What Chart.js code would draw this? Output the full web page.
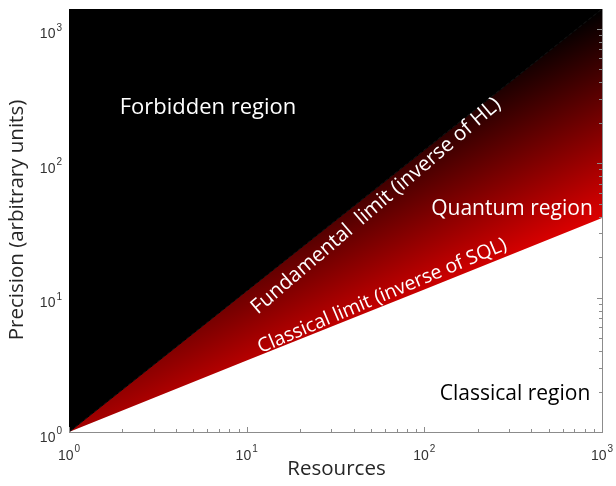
<!DOCTYPE html>
<html><head><meta charset="utf-8">
<script src="https://cdn.jsdelivr.net/npm/chart.js@4/dist/chart.umd.min.js"></script>
<style>html,body{margin:0;padding:0;background:#fff;overflow:hidden}#wrap{width:616px;height:486px;position:relative}</style>
</head><body><div id="wrap"><canvas id="c"></canvas></div>
<script>
// ---- data ----
const resources = [1, 10, 100, 1000];
const fundamentalLimit = [1, 11.2, 125, 1400];   // inverse of Heisenberg limit
const classicalLimit = [1, 3.4, 11.5, 39];        // inverse of SQL
const xRange = [1, 1000];
const yRange = [1, 1400];
const majorTicks = [1, 10, 100, 1000];
const tickExponents = ['0', '1', '2', '3'];
const minorMultipliers = [2, 3, 4, 5, 6, 7, 8, 9];
const xTitle = 'Resources';
const yTitle = 'Precision (arbitrary units)';
const labelForbidden = 'Forbidden region';
const labelQuantum = 'Quantum region';
const labelClassical = 'Classical region';
const labelHL = 'Fundamental  limit (inverse of HL)';
const labelSQL = 'Classical limit (inverse of SQL)';

const tickValues = [];
majorTicks.forEach((m, i) => {
  tickValues.push({value: m, major: true});
  if (i < majorTicks.length - 1) minorMultipliers.forEach(k => tickValues.push({value: m * k, major: false}));
});

const hlPoints = resources.map((x, i) => ({x, y: fundamentalLimit[i]}));
const sqlPoints = resources.map((x, i) => ({x, y: classicalLimit[i]}));

function gradientFill(ctx) {
  const chart = ctx.chart, ca = chart.chartArea;
  if (!ca) return '#c00000';
  const w = ca.right - ca.left, h = ca.bottom - ca.top;
  const g = chart.ctx.createLinearGradient(ca.right, ca.top, ca.right + 0.182 * w, ca.top + 0.453 * h);
  g.addColorStop(0, '#000000');
  g.addColorStop(1, '#ff0000');
  return g;
}

const SANS = '"Open Sans", "Noto Sans", sans-serif';

const decor = {
  id: 'decor',
  afterDraw(chart) {
    const {ctx, chartArea: ca, scales: {x, y}} = chart;
    ctx.save();
    const axisCol = '#8c8c8c';
    ctx.strokeStyle = axisCol; ctx.lineWidth = 1;
    ctx.beginPath(); ctx.moveTo(ca.right + 0.5, ca.top); ctx.lineTo(ca.right + 0.5, ca.bottom); ctx.stroke();
    tickValues.forEach(t => {
      const px = Math.round(x.getPixelForValue(t.value)) + 0.5;
      const len = t.major ? 5 : 3;
      ctx.beginPath(); ctx.moveTo(px, ca.bottom); ctx.lineTo(px, ca.bottom - len); ctx.stroke();
    });
    tickValues.forEach(t => {
      if (t.value > yRange[1]) return;
      const py = Math.round(y.getPixelForValue(t.value)) + 0.5;
      const len = t.major ? 5 : 3;
      ctx.beginPath(); ctx.moveTo(ca.right, py); ctx.lineTo(ca.right - len, py); ctx.stroke();
    });
    const baseFont = '14px "Liberation Sans", Arial, sans-serif';
    const expFont = '10px "Liberation Sans", Arial, sans-serif';
    ctx.fillStyle = '#333333';
    ctx.textBaseline = 'alphabetic';
    majorTicks.forEach((v, i) => {
      const e = tickExponents[i];
      ctx.font = baseFont; const w10 = ctx.measureText('10').width;
      ctx.font = expFont; const we = ctx.measureText(e).width;
      const px = x.getPixelForValue(v);
      const start = px - (w10 + we + 1) / 2;
      ctx.textAlign = 'left';
      ctx.font = baseFont; ctx.fillText('10', start, ca.bottom + 28);
      ctx.font = expFont; ctx.fillText(e, start + w10 + 1, ca.bottom + 20);
      const py = y.getPixelForValue(v);
      const right = ca.left - 7;
      ctx.textAlign = 'right';
      ctx.font = expFont; ctx.fillText(e, right, py + 2);
      ctx.font = baseFont; ctx.fillText('10', right - we - 1, py + 9.5);
    });
    // axis titles
    ctx.fillStyle = '#262626';
    ctx.font = '20.5px ' + SANS;
    ctx.textAlign = 'center'; ctx.textBaseline = 'middle';
    ctx.fillText(xTitle, (ca.left + ca.right) / 2 + 1, ca.bottom + 37);
    ctx.save();
    ctx.translate(17, 220); ctx.rotate(-Math.PI / 2);
    ctx.fillText(yTitle, 0, 0);
    ctx.restore();
    // region annotations
    ctx.font = '22px ' + SANS;
    ctx.fillStyle = '#ffffff';
    ctx.fillText(labelForbidden, 208, 108);
    ctx.font = '21px ' + SANS;
    ctx.fillText(labelQuantum, 512, 209);
    ctx.fillStyle = '#000000';
    ctx.fillText(labelClassical, 515, 394);
    // rotated limit labels
    ctx.fillStyle = '#ffffff';
    ctx.font = '20.5px ' + SANS;
    ctx.save(); ctx.translate(376, 206); ctx.rotate(-40.5 * Math.PI / 180); ctx.fillText(labelHL, 0, 0); ctx.restore();
    // SQL label sits just above the classical-limit boundary
    const p0 = {x: x.getPixelForValue(resources[0]), y: y.getPixelForValue(classicalLimit[0])};
    const p1 = {x: x.getPixelForValue(resources[resources.length - 1]), y: y.getPixelForValue(classicalLimit[classicalLimit.length - 1])};
    const ang = Math.atan2(p1.y - p0.y, p1.x - p0.x);
    const cx = 386;
    const cy = p0.y + (p1.y - p0.y) * (cx - p0.x) / (p1.x - p0.x);
    ctx.font = '19.5px ' + SANS;
    ctx.textBaseline = 'alphabetic';
    ctx.save(); ctx.translate(cx, cy); ctx.rotate(ang - 1 * Math.PI / 180); ctx.fillText(labelSQL, 0, -4); ctx.restore();
    ctx.restore();
  }
};

new Chart(document.getElementById('c'), {
  type: 'line',
  data: {
    datasets: [
      {data: hlPoints, fill: 'end', backgroundColor: '#000000', borderColor: '#000000', borderWidth: 1, pointRadius: 0, tension: 0},
      {data: sqlPoints, fill: '-1', backgroundColor: gradientFill, borderWidth: 0, pointRadius: 0, tension: 0}
    ]
  },
  options: {
    responsive: true, maintainAspectRatio: false, animation: false,
    layout: {padding: {top: 9, right: 14, left: 0, bottom: 0}},
    plugins: {legend: {display: false}, tooltip: {enabled: false}},
    scales: {
      x: {type: 'logarithmic', min: xRange[0], max: xRange[1],
          ticks: {display: false}, grid: {display: false, drawTicks: false},
          border: {display: true, color: '#8c8c8c', width: 1},
          afterBuildTicks: s => { s.ticks = tickValues.map(t => ({value: t.value})); },
          afterFit: s => { s.height = 54; }},
      y: {type: 'logarithmic', min: yRange[0], max: yRange[1],
          ticks: {display: false}, grid: {display: false, drawTicks: false},
          border: {display: true, color: '#8c8c8c', width: 1},
          afterBuildTicks: s => { s.ticks = tickValues.filter(t => t.value <= yRange[1]).map(t => ({value: t.value})); },
          afterFit: s => { s.width = 69; }}
    }
  },
  plugins: [decor]
});
</script></body></html>
